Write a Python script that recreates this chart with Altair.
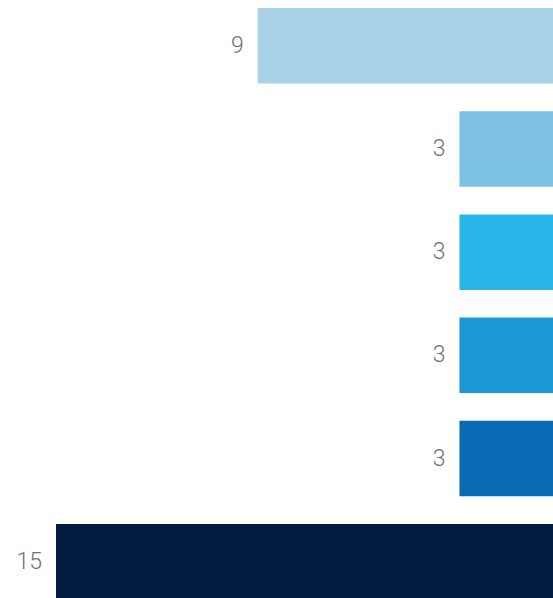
import altair as alt
import pandas as pd

categories = ["A", "B", "C", "D", "E", "F"]
values = [9, 3, 3, 3, 3, 15]
colors = ["#A9D2E8", "#7DC1E4", "#29B6E8", "#1C97D6", "#0A6AB4", "#011A3E"]

df = pd.DataFrame({"cat": categories, "value": values, "color": colors})

y_enc = alt.Y(
    "cat:N",
    sort=categories,
    axis=None,
    scale=alt.Scale(range=[0, 607.5], paddingInner=0.268, paddingOuter=0.0775),
)
x_scale = alt.Scale(domain=[0, 15], range=[560.3, 56], nice=False, zero=True)

bars = alt.Chart(df).mark_bar().encode(
    x=alt.X("value:Q", scale=x_scale, axis=None),
    y=y_enc,
    color=alt.Color("color:N", scale=None, legend=None),
)

labels = alt.Chart(df).mark_text(
    align="right",
    baseline="middle",
    dx=-14,
    font="Roboto",
    fontSize=23,
    fontWeight=300,
    color="#707070",
).encode(
    x=alt.X("value:Q", scale=x_scale, axis=None),
    y=y_enc,
    text=alt.Text("value:Q"),
)

chart = (
    alt.layer(bars, labels)
    .properties(
        width=553,
        height=598,
        autosize=alt.AutoSizeParams(type="none"),
        padding=0,
        background="white",
    )
    .configure_view(stroke=None)
)

chart.save("out.html", embed_options={"renderer": "svg", "actions": False})
